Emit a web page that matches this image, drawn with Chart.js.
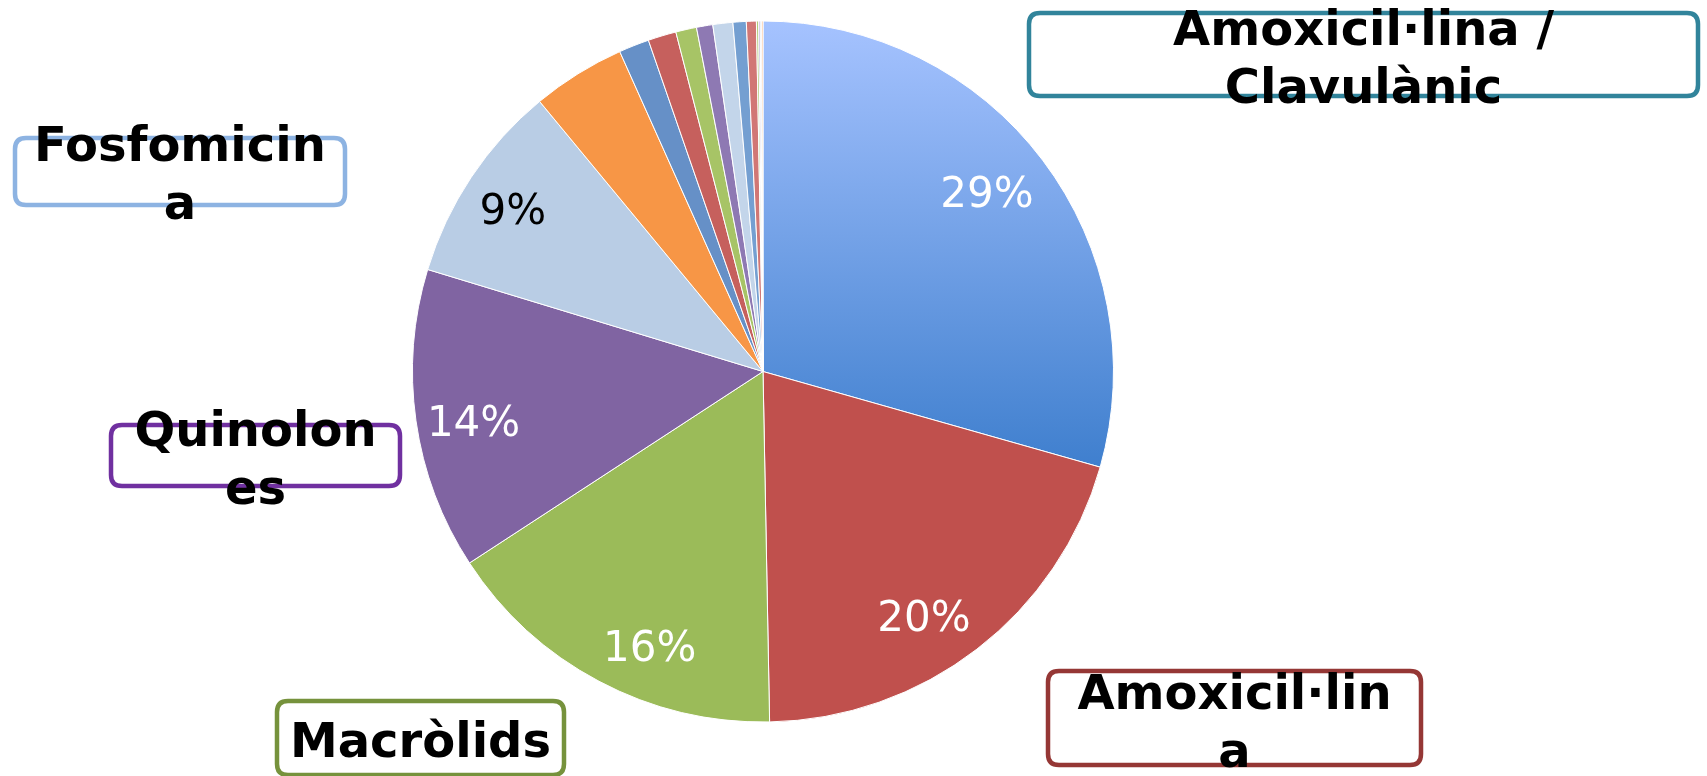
<!DOCTYPE html>
<html>
<head>
<meta charset="utf-8">
<script src="https://cdn.jsdelivr.net/npm/chart.js@4/dist/chart.umd.min.js"></script>
<style>
  html, body { margin: 0; padding: 0; background: #ffffff; }
  #wrap { width: 1707px; height: 776px; }
</style>
</head>
<body>
<div id="wrap"><canvas id="c" width="1707" height="776"></canvas></div>
<script>
// ---- DATA ----
const categories = [
  'Amoxicil·lina / Clavulànic', 'Amoxicil·lina', 'Macròlids', 'Quinolones', 'Fosfomicina',
  'Altres 1', 'Altres 2', 'Altres 3', 'Altres 4', 'Altres 5', 'Altres 6', 'Altres 7', 'Altres 8',
  'Altres 9', 'Altres 10', 'Altres 11', 'Altres 12'
];
const percentages = [29.4, 20.3, 16.1, 13.9, 9.3, 4.3, 1.4, 1.3, 0.96, 0.75, 0.92, 0.61, 0.46, 0.1, 0.07, 0.07, 0.06];
const sliceColors = [
  null, '#c0504d', '#9bbb59', '#8064a2', '#b9cde5', '#f79646',
  '#6690c7', '#c6605d', '#a7c466', '#8e79b3', '#c3d5ea', '#749fd1', '#d17775',
  '#b2cc7a', '#9d8ac0', '#cddcef', '#f9ab70'
];
const labelColors = ['#ffffff', '#ffffff', '#ffffff', '#ffffff', '#000000'];
const calloutLines = [
  ['Amoxicil·lina /', 'Clavulànic'],
  ['Fosfomicin', 'a'],
  ['Quinolon', 'es'],
  ['Macròlids'],
  ['Amoxicil·lin', 'a']
];
const calloutColors = ['#31849b', '#8db3e2', '#7030a0', '#76923c', '#953735'];

// ---- layout (placement of the inside labels within their slice) ----
const labelAnchors = [
  { f: 0.485, r: 0.818 },
  { f: 0.559, r: 0.836 },
  { f: 0.404, r: 0.850 },
  { f: 0.466, r: 0.838 },
  { f: 0.478, r: 0.850 }
];
const labelDrop = 3.5;

function firstSliceGradient(ctx) {
  const chart = ctx.chart;
  const area = chart.chartArea;
  if (!area) return '#6a9be6';
  const g = chart.ctx.createLinearGradient(0, area.top, 0, area.top + area.height * 0.636);
  g.addColorStop(0, '#a6c3ff');
  g.addColorStop(1, '#3f7fce');
  return g;
}

const pctLabels = {
  id: 'pctLabels',
  afterDatasetsDraw(chart) {
    const ctx = chart.ctx;
    const meta = chart.getDatasetMeta(0);
    ctx.save();
    ctx.font = '42px "DejaVu Sans"';
    ctx.textAlign = 'center';
    ctx.textBaseline = 'middle';
    meta.data.forEach((arc, i) => {
      if (i >= labelColors.length) return;
      const p = arc.getProps(['x', 'y', 'startAngle', 'endAngle', 'outerRadius'], true);
      const a = labelAnchors[i];
      const ang = p.startAngle + (p.endAngle - p.startAngle) * a.f;
      const r = p.outerRadius * a.r;
      ctx.fillStyle = labelColors[i];
      ctx.fillText(Math.round(percentages[i]) + '%', p.x + Math.cos(ang) * r, p.y + Math.sin(ang) * r + labelDrop);
    });
    ctx.restore();
  }
};

function roundRect(ctx, x, y, w, h, r) {
  ctx.beginPath();
  ctx.moveTo(x + r, y);
  ctx.lineTo(x + w - r, y);
  ctx.quadraticCurveTo(x + w, y, x + w, y + r);
  ctx.lineTo(x + w, y + h - r);
  ctx.quadraticCurveTo(x + w, y + h, x + w - r, y + h);
  ctx.lineTo(x + r, y + h);
  ctx.quadraticCurveTo(x, y + h, x, y + h - r);
  ctx.lineTo(x, y + r);
  ctx.quadraticCurveTo(x, y, x + r, y);
  ctx.closePath();
}

// layout of the callout boxes (x, y, w, h, first baseline)
const calloutLayout = [
  { x: 1029, y: 13, w: 669, h: 83, base: 45 },
  { x: 15, y: 138, w: 330, h: 67, base: 161 },
  { x: 111, y: 425, w: 289, h: 61, base: 446 },
  { x: 277, y: 701, w: 287, h: 74, base: 757 },
  { x: 1048, y: 671, w: 373, h: 94, base: 709 }
];
const lineStep = 57.5;

const callouts = {
  id: 'callouts',
  afterDraw(chart) {
    const ctx = chart.ctx;
    ctx.save();
    calloutLayout.forEach((b, i) => {
      roundRect(ctx, b.x, b.y, b.w, b.h, 11);
      ctx.fillStyle = '#ffffff';
      ctx.fill();
      ctx.lineWidth = 4.5;
      ctx.strokeStyle = calloutColors[i];
      ctx.stroke();
    });
    ctx.font = 'bold 48px "DejaVu Sans"';
    ctx.textAlign = 'center';
    ctx.textBaseline = 'alphabetic';
    ctx.fillStyle = '#000000';
    calloutLayout.forEach((b, i) => {
      calloutLines[i].forEach((line, k) => {
        ctx.fillText(line, b.x + b.w / 2, b.base + k * lineStep);
      });
    });
    ctx.restore();
  }
};

new Chart(document.getElementById('c'), {
  type: 'pie',
  data: {
    labels: categories,
    datasets: [{
      data: percentages,
      backgroundColor: (ctx) => ctx.dataIndex === 0 ? firstSliceGradient(ctx) : sliceColors[ctx.dataIndex],
      borderColor: '#ffffff',
      borderWidth: 1
    }]
  },
  options: {
    responsive: false,
    animation: false,
    layout: { padding: { top: 20, bottom: 53, left: 412, right: 593 } },
    plugins: { legend: { display: false }, tooltip: { enabled: false } }
  },
  plugins: [pctLabels, callouts]
});
</script>
</body>
</html>
